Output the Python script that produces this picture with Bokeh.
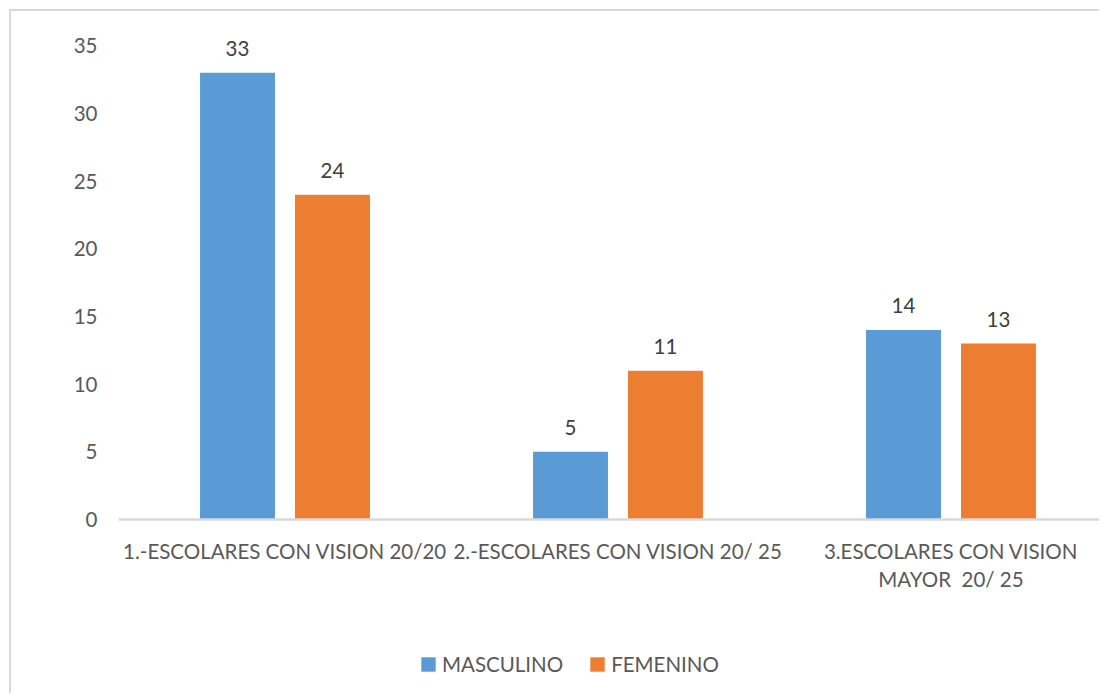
from bokeh.plotting import figure
from bokeh.models import Range1d, FixedTicker, ColumnDataSource, Legend, LegendItem
from bokeh.core.properties import value
from bokeh.embed import file_html
from bokeh.resources import INLINE
import numpy as np

categories = ["1.-ESCOLARES CON VISION 20/20",
              "2.-ESCOLARES CON VISION 20/ 25",
              "3.ESCOLARES CON VISION\nMAYOR\u00a0 20/ 25"]
series_names = ["MASCULINO", "FEMENINO"]
masculino = [33, 5, 14]
femenino = [24, 11, 13]
y_ticks = [0, 5, 10, 15, 20, 25, 30, 35]
colors = ["#5B9BD5", "#ED7D31"]

FONT = "Lato"
TXT = "#595959"

centers = np.arange(len(categories)) + 0.5
off = 0.1426
bw = 0.225

src = ColumnDataSource(dict(
    xm=centers - off, xf=centers + off,
    m=masculino, f=femenino,
    ml=[str(v) for v in masculino], fl=[str(v) for v in femenino],
))

# frame spans 670 px for 49.5 units (13.54 px per unit); value 0 sits 176 px above the bottom
p = figure(width=1090, height=684,
           x_range=Range1d(0, 2.952), y_range=Range1d(-13.0, 36.5),
           output_backend="svg", toolbar_location=None,
           min_border_left=107, min_border_right=0,
           min_border_top=14, min_border_bottom=0)
p.styles = {"margin-left": "9px", "margin-top": "9px",
            "border-left": "2px solid #d9d9d9", "border-top": "2px solid #d9d9d9"}
p.outline_line_color = None
p.xgrid.grid_line_color = None
p.ygrid.grid_line_color = None

rm = p.vbar(x="xm", top="m", width=bw, source=src, fill_color=colors[0], line_color=None)
rf = p.vbar(x="xf", top="f", width=bw, source=src, fill_color=colors[1], line_color=None)

for xcol, ycol, lcol in [("xm", "m", "ml"), ("xf", "f", "fl")]:
    p.text(x=xcol, y=ycol, text=lcol, source=src, text_align="center",
           text_baseline="bottom", y_offset=-17, text_font=value(FONT),
           text_font_size="20.5px", text_color="#404040")

p.xaxis.fixed_location = 0
p.xaxis.ticker = FixedTicker(ticks=list(centers))
p.xaxis.major_label_overrides = {float(c): lab for c, lab in zip(centers, categories)}
p.xaxis.axis_line_color = "#d9d9d9"
p.xaxis.axis_line_width = 2.5
p.xaxis.major_tick_line_color = None
p.xaxis.minor_tick_line_color = None
p.xaxis.major_label_standoff = 13
p.xaxis.major_label_text_font = FONT
p.xaxis.major_label_text_font_size = "20.5px"
p.xaxis.major_label_text_color = TXT

p.yaxis.ticker = FixedTicker(ticks=y_ticks)
p.yaxis.axis_line_color = None
p.yaxis.major_tick_line_color = None
p.yaxis.minor_tick_line_color = None
p.yaxis.major_label_standoff = 15
p.yaxis.major_label_text_font = FONT
p.yaxis.major_label_text_font_size = "20.5px"
p.yaxis.major_label_text_color = TXT

legend = Legend(items=[LegendItem(label=series_names[0], renderers=[rm]),
                       LegendItem(label=series_names[1], renderers=[rf])],
                orientation="horizontal", location=(301, 19),
                label_text_font=FONT, label_text_font_size="20.5px",
                label_text_color=TXT, glyph_width=18, glyph_height=18,
                label_standoff=5, spacing=25, padding=0, margin=0,
                border_line_color=None, background_fill_alpha=0)
p.add_layout(legend, "center")

open("out.html", "w").write(file_html(p, INLINE))
